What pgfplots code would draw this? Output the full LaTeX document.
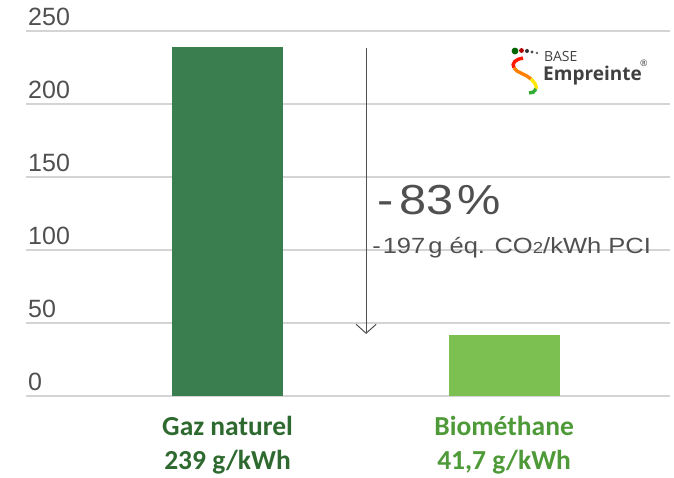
\documentclass[border=0pt]{standalone}
\usepackage{pgfplots}
\pgfplotsset{compat=1.18}
\usepackage{fontspec}
\setmainfont{Liberation Sans}
\newfontfamily\carlito{Carlito}
\newfontfamily\opensans{Open Sans}
\newfontfamily\widesans[FakeStretch=1.16]{Liberation Sans}
\usetikzlibrary{arrows.meta}
\definecolor{bardark}{HTML}{3A7D4F}
\definecolor{barlight}{HTML}{7DC052}
\definecolor{labdark}{HTML}{2E6A30}
\definecolor{lablight}{HTML}{4E9A38}
\definecolor{gridgray}{HTML}{D4D4D4}
\definecolor{txtgray}{HTML}{505050}
\begin{document}
\begin{tikzpicture}[x=1pt,y=1pt]
\path[use as bounding box] (0,0) rectangle (674,477);
\begin{axis}[
  at={(26pt,81pt)}, anchor=south west,
  scale only axis, width=644pt, height=365pt,
  xmin=-0.729, xmax=1.600, ymin=0, ymax=250,
  axis line style={draw=none},
  major tick length=0pt,
  ytick={0,50,100,150,200,250},
  ymajorgrids, grid style={draw=gridgray, line width=1.6pt},
  yticklabel style={anchor=south west, inner sep=0pt, xshift=2pt, yshift=5pt,
    font=\fontsize{25}{25}\selectfont, text=txtgray},
  /pgf/number format/assume math mode=true,
  xtick={0,1},
  xticklabels={{\color{labdark}Gaz naturel\\\color{labdark}239 g/kWh},
               {\color{lablight}Biométhane\\\color{lablight}41,7 g/kWh}},
  xticklabel style={anchor=north, inner sep=0pt, yshift=-20pt, align=center,
    font=\carlito\bfseries\fontsize{27.5}{34}\selectfont},
  clip=false,
]
\addplot[ybar, bar width=111pt, bar shift=0pt, fill=bardark, draw=none] coordinates {(0,239)};
\addplot[ybar, bar width=111pt, bar shift=0pt, fill=barlight, draw=none] coordinates {(1,41.7)};
\draw[txtgray, line width=1pt, -{Straight Barb[length=9pt, width=20pt, line width=1pt]}]
  (axis cs:0.501,238.4) -- (axis cs:0.501,42.5);
\node[anchor=base west, inner sep=0pt, text=txtgray, font=\widesans\fontsize{42}{42}\selectfont]
  at (axis cs:0.5407,124.0) {-\hspace{6pt}83\hspace{4pt}\%};
\node[anchor=base west, inner sep=0pt, text=txtgray, font=\widesans\fontsize{22}{22}\selectfont]
  at (axis cs:0.5226,97.9) {-\hspace{2pt}197\hspace{3pt}g éq. CO{\fontsize{16}{16}\selectfont 2}/kWh PCI};
\end{axis}
% logo
\begin{scope}[shift={(0,477)}, y=-1pt]
  \fill[black!60!green] (515,51) circle (3.4pt);
  \fill[red!70!black] (521.5,50.5) circle (2.4pt);
  \fill[black!80] (527,51) circle (2pt);
  \fill[black!70] (532,52) circle (1.7pt);
  \fill[black!60] (537,53) circle (1.4pt);
  \draw[line width=3.4pt, red!80!orange] (523,58) .. controls (516,59) and (511,63) .. (514,68);
  \draw[line width=3.4pt, orange] (514,68) .. controls (517,73) and (526,74) .. (531,79);
  \draw[line width=3.4pt, yellow!90!orange] (531,79) .. controls (535,83) and (537,86) .. (536,89);
  \draw[line width=3.4pt, green!60!black!80] (536,89) .. controls (535,92) and (532,93) .. (529,93);
  \node[anchor=base west, inner sep=0pt, text=black!75, font=\opensans\fontsize{14}{14}\selectfont] at (544,62) {BASE};
  \node[anchor=base west, inner sep=0pt, text=black!75, font=\opensans\bfseries\fontsize{19}{19}\selectfont] at (543,81) {Empreinte};
  \node[anchor=base west, inner sep=0pt, text=black!75, font=\opensans\fontsize{9}{9}\selectfont] at (640,67) {®};
\end{scope}
\end{tikzpicture}
\end{document}
